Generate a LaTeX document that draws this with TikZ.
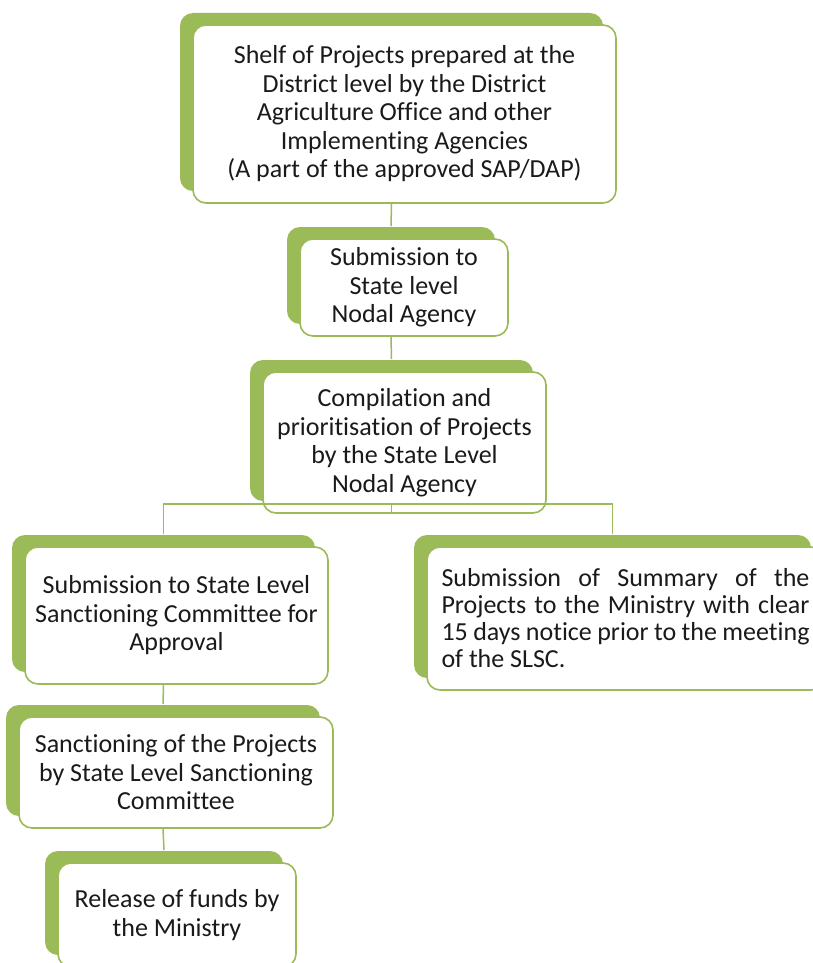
\documentclass[tikz,border=0pt]{standalone}
\usepackage{fontspec}
\setmainfont{Carlito}[Ligatures=NoCommon]
\usetikzlibrary{shadows}

\definecolor{leafgreen}{HTML}{9BBB59}
\definecolor{inktext}{HTML}{1A1A1A}

\tikzset{
  stagebox/.style={draw=leafgreen, line width=1.6pt, fill=white, rounded corners=13pt,
    align=center, inner sep=0pt, text=inktext, font=\fontsize{26}{28.5}\selectfont,
    general shadow={fill=leafgreen, draw=none, shadow xshift=-13pt, shadow yshift=12pt}},
  link/.style={draw=leafgreen, line width=1.5pt}
}

\begin{document}
\begin{tikzpicture}[x=1pt, y=-1pt]
\fill [white] (0,0) rectangle (812,963);
\useasboundingbox (0,0) rectangle (812,963);

% the stages
\node [stagebox, minimum width=423pt, minimum height=178pt] (shelf) at (404.5,114)
  {Shelf of Projects prepared at the\\District level by the District\\Agriculture Office and other\\Implementing Agencies\\(A part of the approved SAP/DAP)};
\node [stagebox, minimum width=208pt, minimum height=97pt] (submit) at (404,287.5)
  {Submission to\\State level\\Nodal Agency};
\node [stagebox, minimum width=283pt, minimum height=141pt] (compile) at (404.5,442.5)
  {Compilation and\\prioritisation of Projects\\by the State Level\\Nodal Agency};
\node [stagebox, minimum width=303pt, minimum height=137pt] (slsc) at (176.5,615.5)
  {Submission to State Level\\Sanctioning Committee for\\Approval};
\node [stagebox, minimum width=397pt, minimum height=143pt, text width=368pt, align=justify,
  font=\fontsize{26}{27}\selectfont] (summary) at (625.5,618.5)
  {Submission of Summary of the\linebreak Projects to the Ministry with clear\linebreak 15 days notice prior to the meeting\linebreak of the SLSC.};
\node [stagebox, minimum width=314pt, minimum height=111pt] (sanction) at (176,772.5)
  {Sanctioning of the Projects\\by State Level Sanctioning\\Committee};
\node [stagebox, minimum width=238pt, minimum height=104pt] (release) at (177,915)
  {Release of funds by\\the Ministry};

% connectors
\draw [link] ([xshift=-13pt]shelf.south) -- ([xshift=-13pt,yshift=12pt]submit.north);
\draw [link] ([xshift=-13pt]submit.south) -- ([xshift=-13pt,yshift=12pt]compile.north);
\coordinate (split) at ([xshift=-13pt,yshift=10pt]compile.south);
\draw [link] ([xshift=-13pt]compile.south) -- (split);
\draw [link] (split) -| ([xshift=-13pt,yshift=12pt]slsc.north);
\draw [link] (split) -| ([xshift=-13pt,yshift=12pt]summary.north);
\draw [link] ([xshift=-13pt]slsc.south) -- ([xshift=-13pt,yshift=12pt]sanction.north);
\draw [link] ([xshift=-13pt]sanction.south) -- ([xshift=-13pt,yshift=12pt]release.north);
\end{tikzpicture}
\end{document}
